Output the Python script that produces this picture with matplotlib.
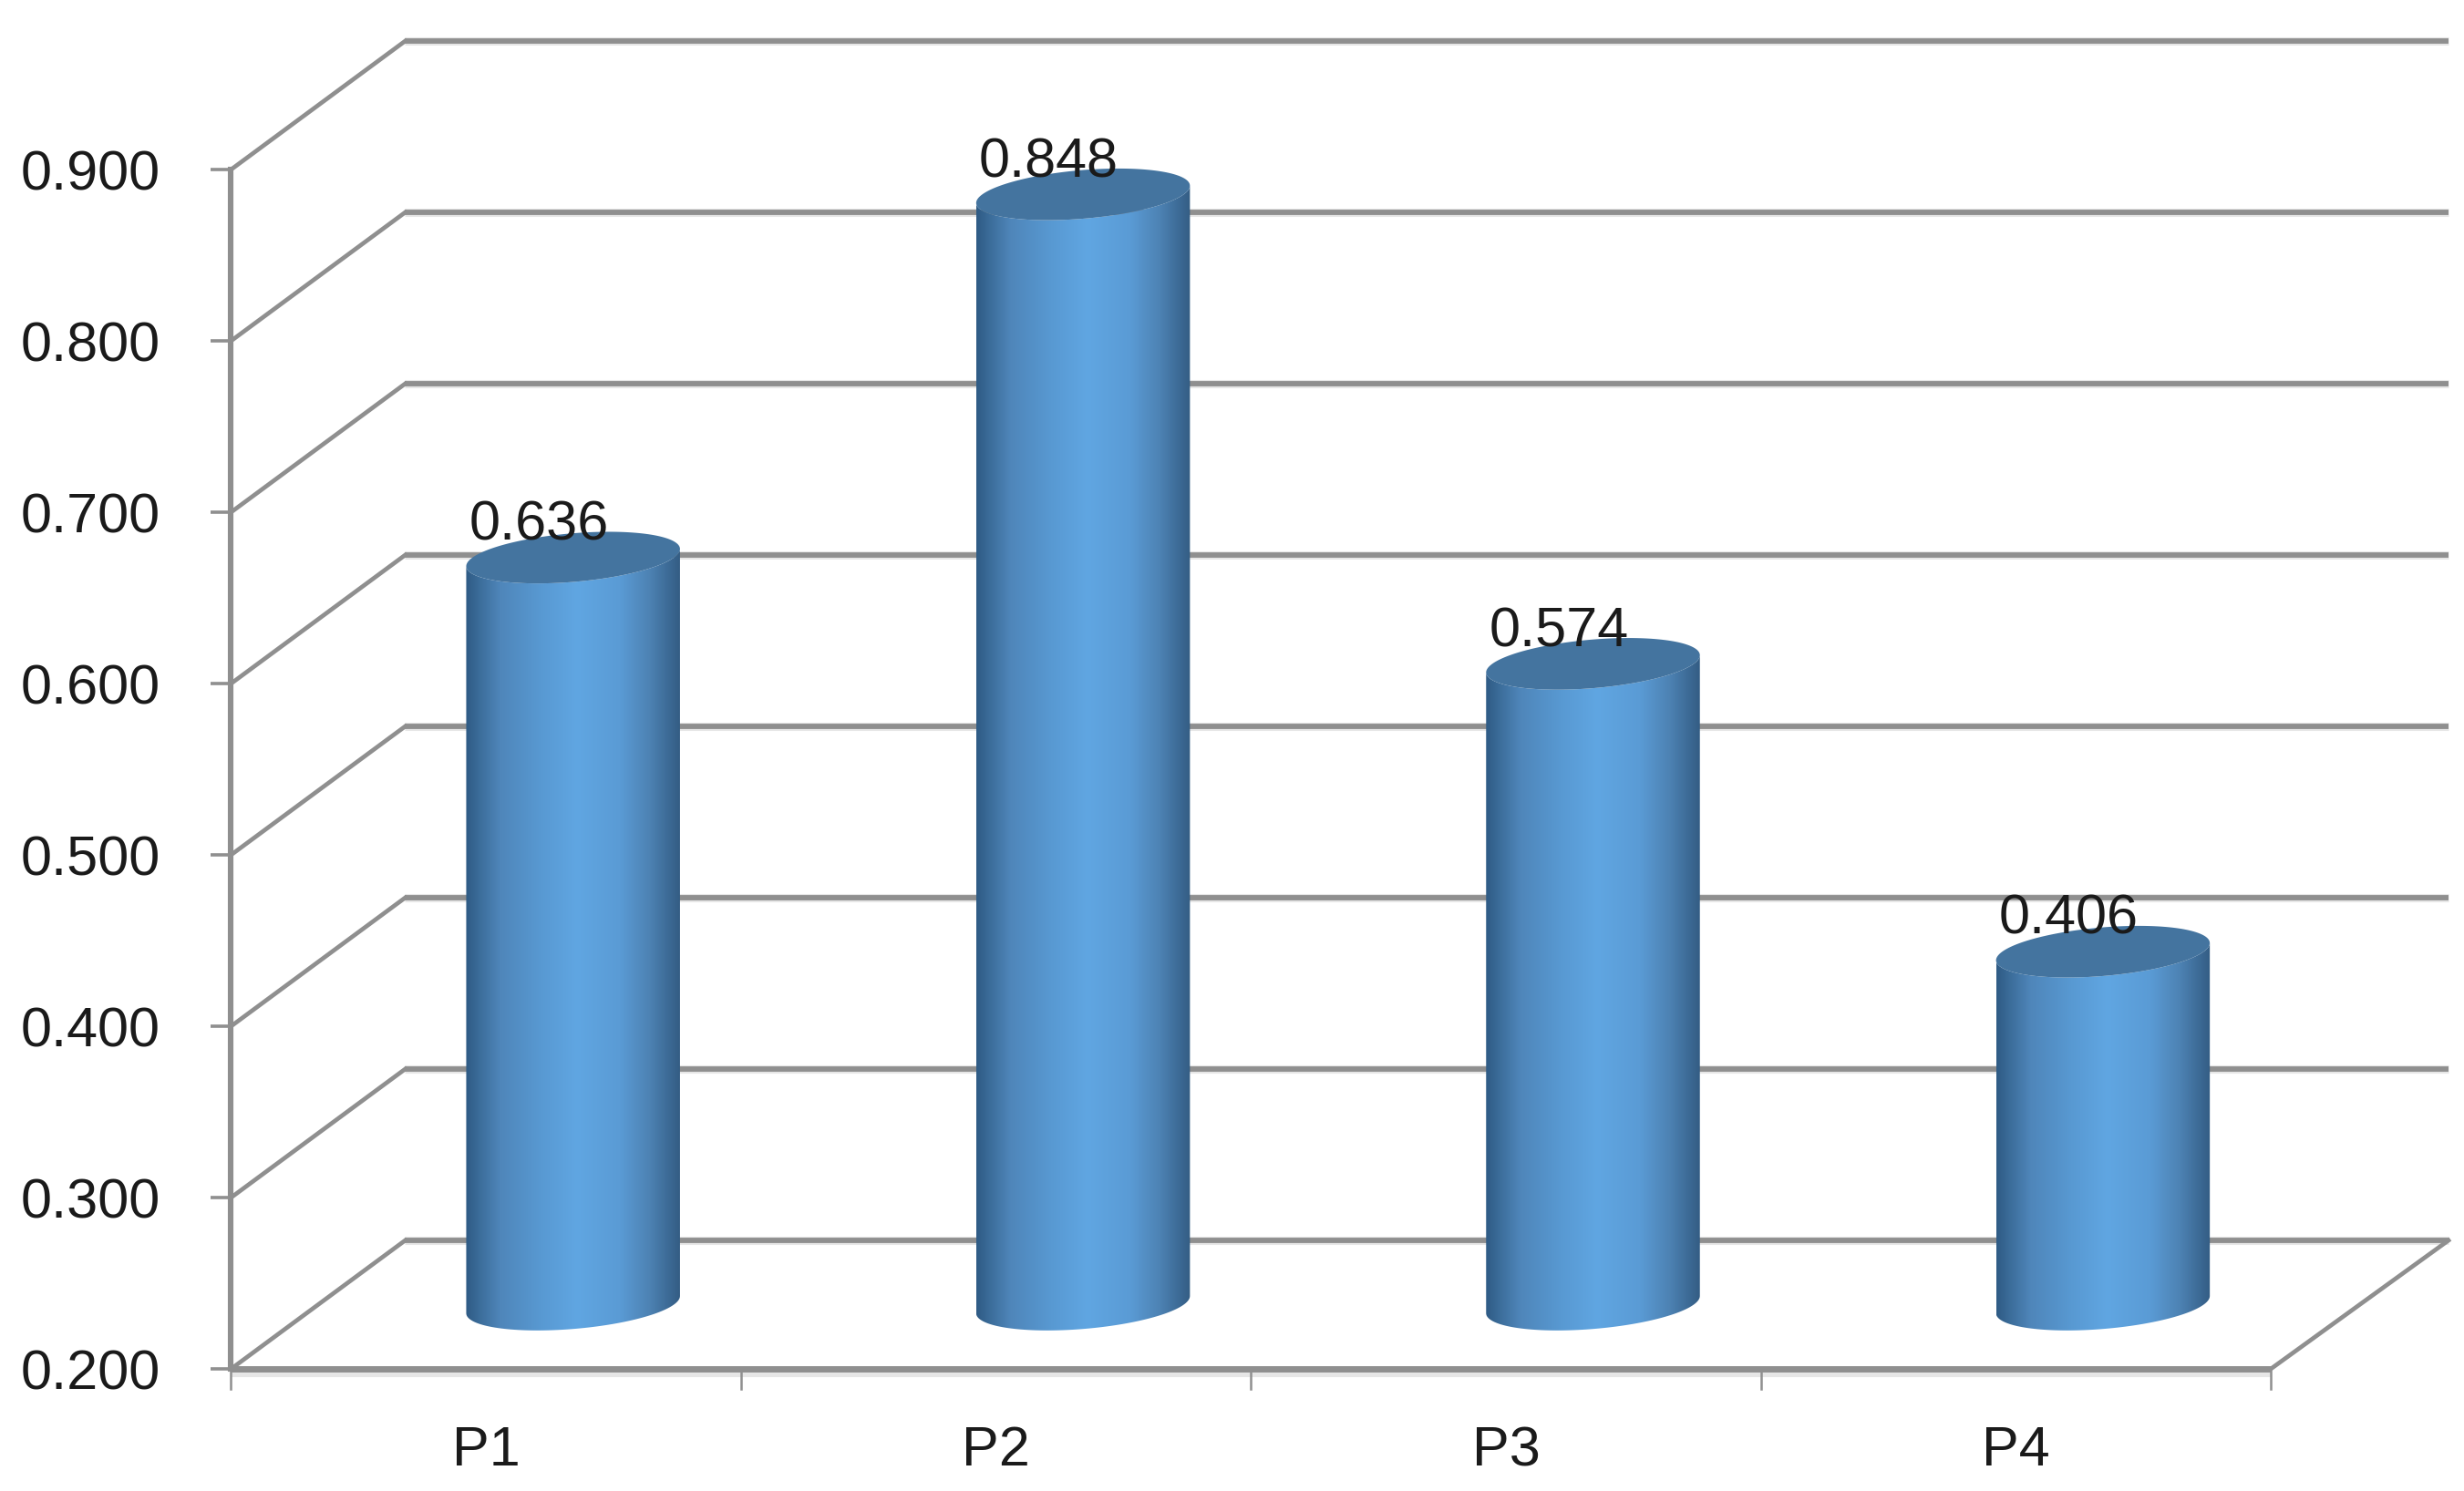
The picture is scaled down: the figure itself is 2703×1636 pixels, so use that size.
import numpy as np
import matplotlib
matplotlib.use("Agg")
import matplotlib.pyplot as plt
from matplotlib.path import Path
from matplotlib.patches import PathPatch, Polygon
from matplotlib.colors import LinearSegmentedColormap

categories = ["P1", "P2", "P3", "P4"]
values = [0.636, 0.848, 0.574, 0.406]
y_ticks = [0.2, 0.3, 0.4, 0.5, 0.6, 0.7, 0.8, 0.9]

W, H = 2703, 1636
PX_X, PX_Y = 559.4, 1880.0
X0_PX, Y0_PX = 253.5, 1502.0
DX, DY = 191 / PX_X, 141 / PX_Y

plt.rcParams['font.family'] = ['Liberation Sans', 'DejaVu Sans']
fig = plt.figure(figsize=(W / 100, H / 100), dpi=100, facecolor='white')
ax = fig.add_axes([0, 0, 1, 1])
xl = (-0.5 - X0_PX / PX_X, -0.5 + (W - X0_PX) / PX_X)
yl = (0.2 - (H - Y0_PX) / PX_Y, 0.2 + Y0_PX / PX_Y)
GRAY = '#8f8f8f'
LIGHT = '#e6e6e6'
TXT = '#1a1a1a'
FS = 44
xL, xR = -0.5, len(categories) - 0.5
xEnd = xR + DX + 0.007

# walls and gridlines
for v in y_ticks:
    ax.plot([xL + DX, xEnd], [v + DY] * 2, color=LIGHT, lw=6.5, zorder=1, solid_capstyle='butt')
    ax.plot([xL + DX, xEnd], [v + DY] * 2, color=GRAY, lw=4.2, zorder=2, solid_capstyle='butt')
    ax.plot([xL, xL + DX], [v, v + DY], color=GRAY, lw=3.4, zorder=2, solid_capstyle='projecting')
    ax.plot([xL - 22 / PX_X, xL], [v, v], color=GRAY, lw=2.6, zorder=2, solid_capstyle='butt')
    ax.text(xL - 78 / PX_X, v - 7 / PX_Y, f"{v:.3f}", ha='right', va='center', fontsize=FS, color=TXT, zorder=6)

# floor edges and axes
ax.plot([xR, xEnd], [0.2, 0.2 + DY], color=GRAY, lw=3.4, zorder=2)
ax.plot([xL, xL], [0.2, 0.9], color=GRAY, lw=4.4, zorder=2)
ax.plot([xL, xR], [0.1985] * 2, color=LIGHT, lw=8, zorder=1, solid_capstyle='butt')
ax.plot([xL, xR], [0.2, 0.2], color=GRAY, lw=5, zorder=2, solid_capstyle='butt')
for i in range(len(categories) + 1):
    ax.plot([xL + i] * 2, [0.2, 0.2 - 22 / PX_Y], color=GRAY, lw=1.8, zorder=2)

# cylinders
A, B, K = 0.2096, 0.0142, 0.00504
cmap = LinearSegmentedColormap.from_list('cyl', [
    (0.00, '#2f5b85'), (0.06, '#3b6c99'), (0.16, '#4f86ba'), (0.35, '#5899d2'),
    (0.52, '#60a6e2'), (0.72, '#5a9bd5'), (0.86, '#4d82b3'), (0.95, '#3c6a95'), (1.00, '#345d84')])
grad = np.linspace(0, 1, 256).reshape(1, -1)
t_low = np.linspace(np.pi, 2 * np.pi, 80)   # lower half of the rim
t_full = np.linspace(0, 2 * np.pi, 160)
for i, (cat, v) in enumerate(zip(categories, values)):
    cx = i + DX / 2
    top = v + DY / 2
    base = 0.2 + DY / 2
    bx = cx + A * np.cos(t_low)
    by = base + B * np.sin(t_low) + K * np.cos(t_low)
    tx = cx + A * np.cos(t_low[::-1])
    ty = top + B * np.sin(t_low[::-1]) + K * np.cos(t_low[::-1])
    verts = np.r_[np.c_[bx, by], np.c_[tx, ty], [[bx[0], by[0]]]]
    codes = [Path.MOVETO] + [Path.LINETO] * (len(verts) - 2) + [Path.CLOSEPOLY]
    im = ax.imshow(grad, cmap=cmap, extent=[cx - A, cx + A, base - 0.03, top + 0.03],
                   aspect='auto', zorder=3, interpolation='bilinear')
    clip = PathPatch(Path(verts, codes), transform=ax.transData, fc='none', ec='none')
    ax.add_patch(clip)
    im.set_clip_path(clip)
    ex = cx + A * np.cos(t_full)
    ey = top + B * np.sin(t_full) + K * np.cos(t_full)
    ax.add_patch(Polygon(np.c_[ex, ey], closed=True, fc='#44749f', ec='none', zorder=4))
    ax.annotate(f"{v:.3f}", (cx, top), xytext=(-27, 25), textcoords='offset points',
                ha='center', va='center', fontsize=FS, color=TXT, zorder=6)
    ax.text(i, 0.2 - 91 / PX_Y, cat, ha='center', va='center', fontsize=FS, color=TXT, zorder=6)

ax.set_xlim(*xl)
ax.set_ylim(*yl)
ax.axis('off')
fig.savefig('out.png', dpi=100, facecolor='white')
